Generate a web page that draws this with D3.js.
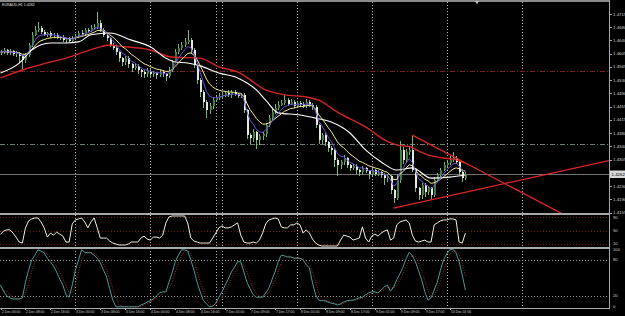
<!DOCTYPE html>
<html><head><meta charset="utf-8">
<script src="https://cdn.jsdelivr.net/npm/d3@7"></script>
<style>html,body{margin:0;padding:0;background:#000;overflow:hidden}</style>
</head><body><svg id="c" width="625" height="316"></svg>
<script>
// ---------------- DATA ----------------
const symbolLabel = "EURAUD,H1 1.4262";
const firstOpen = 1.4605;
const closes = [
1.4607,1.4613,1.4605,1.4610,1.4602,1.4605,1.4596,1.4585,
1.4599,1.4627,1.4656,1.4670,1.4675,1.4664,1.4656,1.4661,
1.4653,1.4656,1.4647,1.4650,1.4641,1.4644,1.4639,1.4647,
1.4653,1.4661,1.4658,1.4670,1.4667,1.4675,1.4678,1.4690,
1.4670,1.4656,1.4647,1.4627,1.4619,1.4607,1.4590,1.4579,
1.4590,1.4573,1.4562,1.4568,1.4556,1.4551,1.4545,1.4554,
1.4545,1.4548,1.4542,1.4551,1.4545,1.4539,1.4556,1.4579,
1.4607,1.4619,1.4627,1.4636,1.4641,1.4613,1.4571,1.4528,
1.4494,1.4466,1.4443,1.4454,1.4471,1.4477,1.4483,1.4486,
1.4491,1.4486,1.4494,1.4488,1.4483,1.4486,1.4443,1.4372,
1.4364,1.4381,1.4358,1.4369,1.4375,1.4401,1.4420,1.4437,
1.4449,1.4457,1.4463,1.4471,1.4460,1.4466,1.4454,1.4463,
1.4460,1.4454,1.4466,1.4457,1.4452,1.4401,1.4358,1.4372,
1.4352,1.4335,1.4330,1.4301,1.4287,1.4296,1.4307,1.4287,
1.4279,1.4284,1.4273,1.4267,1.4279,1.4270,1.4262,1.4273,
1.4262,1.4267,1.4259,1.4250,1.4256,1.4216,1.4194,1.4245,
1.4330,1.4301,1.4324,1.4330,1.4273,1.4222,1.4202,1.4231,
1.4211,1.4222,1.4202,1.4245,1.4259,1.4273,1.4287,1.4293,
1.4301,1.4307,1.4296,1.4267,1.4250,1.4262];
// wick lengths beyond the body, in pips
const upWick = [
5,6,4,5,4,6,3,4, 5,6,8,12,18,6,5,4, 5,4,6,3,5,4,6,5, 6,5,8,6,5,10,8,30,
8,5,6,4,5,6,3,4, 6,5,4,8,5,4,6,7, 5,6,4,5,6,4,8,6, 8,10,9,12,28,6,5,4,
5,6,4,8,10,6,8,5, 6,8,5,6,4,5,4,3, 5,8,4,6,5,6,8,10, 10,12,8,15,6,8,5,6,
6,5,8,6,5,4,3,6, 5,4,6,3,5,6,8,4, 4,6,5,3,6,4,3,5, 4,5,3,6,5,3,4,18,
25,8,10,8,39,5,4,6, 5,6,4,8,6,7,10,8, 12,18,6,5,8,6];
const dnWick = [
6,4,5,5,6,8,20,30, 10,6,5,4,6,5,4,6, 5,6,4,6,5,7,4,5, 5,6,4,5,6,4,5,6,
5,6,8,6,5,8,10,12, 8,10,12,6,10,14,12,8, 10,8,12,6,8,14,6,5, 4,5,6,5,6,10,8,10,
15,18,22,10,8,6,5,8, 6,5,8,6,5,6,8,10, 18,12,25,15,10,8,6,5, 5,6,4,6,5,4,6,5,
5,6,4,5,8,10,12,10, 10,12,15,18,30,12,10,8, 8,6,10,12,8,6,15,6, 6,5,8,20,10,12,14,6,
8,12,6,8,6,10,14,12, 14,10,12,6,5,6,4,5, 6,5,6,8,10,6];
// slow moving averages as read: [bar, price]
const whiteMA = [[0,1.4548],[6,1.4576],[10,1.4613],[16,1.4633],[21,1.4633],[25,1.4636],[29,1.4656],[35,1.4661],
 [42,1.4641],[48,1.4622],[53,1.4590],[56,1.4579],[60,1.4576],[64,1.4568],[70,1.4548],[76,1.4534],[82,1.4500],
 [85,1.4471],[89,1.4435],[96,1.4429],[101,1.4420],[106,1.4409],[112,1.4378],[117,1.4330],[122,1.4296],
 [127,1.4273],[132,1.4279],[138,1.4250],[144,1.4253],[149,1.4259]];
const redMA = [[0,1.4534],[9,1.4562],[16,1.4579],[21,1.4590],[32,1.4622],[35,1.4627],[38,1.4624],[48,1.4613],
 [55,1.4593],[64,1.4590],[70,1.4565],[76,1.4551],[85,1.4500],[91,1.4486],[98,1.4480],[102,1.4471],[108,1.4437],
 [117,1.4395],[124,1.4354],[128,1.4342],[131,1.4340],[134,1.4327],[137,1.4316],[142,1.4307],[145,1.4304],[149,1.4293]];
const trendDown = [[132,1.4372],[182,1.4140]];
const trendUp = [[126,1.4165],[195,1.4300]];
const levelLines = [1.4554, 1.4347];
const currentPrice = 1.4262;
const osc = [
39,48,52,52,42,30,15,12, 58,79,85,88,88,76,58,30, 42,36,45,39,33,15,15,70, 82,85,88,76,58,76,88,58,
27,27,27,18,12,9,6,6, 6,9,15,15,15,27,33,24, 21,30,30,27,36,73,91,94, 94,94,94,94,73,27,18,15,
12,12,12,12,27,42,58,64, 58,58,61,67,73,36,15,12, 12,15,12,21,42,70,82,85, 88,85,61,58,58,67,67,73,
67,42,52,42,24,12,6,3, 3,3,3,3,3,21,36,33, 30,21,24,27,61,27,15,33, 39,33,42,48,52,21,27,67,
76,79,82,73,36,18,15,18, 21,15,15,67,73,79,82,82, 85,85,82,15,12,42];
const oscLevels = [90, 50, 10];
const stochMain = [
38,28,20,17,15,15,15,17, 43,63,80,88,97,95,92,83, 77,70,60,48,38,22,18,38, 63,80,97,93,92,92,88,83,
75,63,52,32,13,2,2,2, 2,2,2,2,2,5,7,10, 12,15,20,25,27,27,43,58, 77,88,97,97,95,80,63,43,
27,13,7,2,3,8,18,27, 38,48,60,68,77,77,60,43, 32,22,18,18,18,25,33,47, 60,77,88,87,85,85,83,83,
83,80,72,67,42,22,13,12, 12,10,8,7,5,7,10,12, 13,13,15,17,18,22,25,27, 27,25,30,35,38,28,35,47,
57,68,82,93,87,77,62,47, 27,13,17,30,43,63,80,90, 97,98,92,77,55,30];
const stochLevels = [80, 20];
const stochLabels = ["100","80","20","0"];
const stochLabelVals = [98, 80, 20, 3];
const priceLabels = ["1.4715","1.4680","1.4640","1.4605","1.4565","1.4530","1.4490","1.4455","1.4415","1.4380","1.4340","1.4305","1.4230","1.4190","1.4155"];
const priceLabelVals = [1.4715,1.46775,1.4640,1.46025,1.4565,1.45275,1.4490,1.44525,1.4415,1.43775,1.4340,1.43025,1.42275,1.4190,1.41525];
const timeLabels = ["2 Dec 00:00","2 Dec 08:00","2 Dec 16:00","3 Dec 00:00","3 Dec 08:00","3 Dec 16:00","4 Dec 00:00","4 Dec 08:00","4 Dec 16:00","7 Dec 01:00","7 Dec 09:00","7 Dec 17:00","8 Dec 01:00","8 Dec 09:00","8 Dec 17:00","9 Dec 01:00","9 Dec 09:00","9 Dec 17:00","10 Dec 01:00"];
const timeLabelBars = [0,8,16,24,32,40,48,56,64,72,80,88,96,104,112,120,128,136,144];
const gridBars = [24,48,69,71,95,119,143,167];

// ---------------- DRAW ----------------
const svg = d3.select('#c');
svg.append('rect').attr('width',625).attr('height',316).attr('fill','#000');
const x = d3.scaleLinear().domain([0,195]).range([0.5, 0.5+3.12*195]);
const y = d3.scaleLinear().domain([1.4155,1.4715]).range([211.7,14]);
const y2 = d3.scaleLinear().domain([0,100]).range([247,214]);
const y3 = d3.scaleLinear().domain([0,100]).range([308,248]);
const px = i => Math.round(x(i));
const FONT = "'Liberation Sans', Arial, sans-serif";

const defs = svg.append('defs');
defs.append('clipPath').attr('id','cp1').append('rect').attr('x',0).attr('y',3).attr('width',609).attr('height',210);
defs.append('clipPath').attr('id','cp2').append('rect').attr('x',0).attr('y',215).attr('width',609).attr('height',32);
defs.append('clipPath').attr('id','cp3').append('rect').attr('x',0).attr('y',249).attr('width',609).attr('height',59);

// vertical grid
svg.append('g').selectAll('line').data(gridBars).join('line')
  .attr('x1',d=>px(d)+0.5).attr('x2',d=>px(d)+0.5).attr('y1',2).attr('y2',308)
  .attr('stroke','#b8b8b8').attr('stroke-dasharray','1,2').attr('stroke-width',1);

const g1 = svg.append('g').attr('clip-path','url(#cp1)');
g1.selectAll('line.lv').data(levelLines).join('line').attr('class','lv')
  .attr('x1',0).attr('x2',609).attr('y1',d=>Math.round(y(d))+0.5).attr('y2',d=>Math.round(y(d))+0.5)
  .attr('stroke',(d,i)=>i===0?'#7a2020':'#6f7f6f').attr('stroke-dasharray','5,2,1,2');
g1.append('line').attr('x1',0).attr('x2',609).attr('y1',Math.round(y(currentPrice))+0.5).attr('y2',Math.round(y(currentPrice))+0.5)
  .attr('stroke','#707070').attr('stroke-width',1);

// candles
const bars = closes.map((c,i)=>{
  const o = i ? closes[i-1] : firstOpen;
  return {i, o, c, h: Math.max(o,c)+upWick[i]*0.0001, l: Math.min(o,c)-dnWick[i]*0.0001};
});
const cg = g1.append('g').attr('shape-rendering','crispEdges');
cg.selectAll('line').data(bars).join('line')
  .attr('x1',d=>px(d.i)+0.5).attr('x2',d=>px(d.i)+0.5)
  .attr('y1',d=>y(d.h)).attr('y2',d=>y(d.l)).attr('stroke','#79b879');
cg.selectAll('rect').data(bars).join('rect')
  .attr('x',d=>px(d.i)).attr('width',2)
  .attr('y',d=>y(Math.max(d.o,d.c))).attr('height',d=>Math.max(1, Math.abs(y(d.o)-y(d.c))))
  .attr('fill',d=>d.c>=d.o?'#3f7f3f':'#e4ece0');

// moving averages
function ema(arr,n){const k=2/(n+1);let e=arr[0];return arr.map(v=>(e=v*k+e*(1-k)));}
const purple = ema(closes,5), yellow = ema(closes,10);
const line = d3.line().x((d,i)=>x(i)).y(d=>y(d));
const lineP = d3.line().x(d=>x(d[0])).y(d=>y(d[1])).curve(d3.curveMonotoneX);
g1.append('path').attr('d',lineP(redMA)).attr('fill','none').attr('stroke','#d42424').attr('stroke-width',1.4);
g1.append('path').attr('d',lineP(whiteMA)).attr('fill','none').attr('stroke','#ffffff').attr('stroke-width',1.1);
g1.append('path').attr('d',line(yellow)).attr('fill','none').attr('stroke','#f4ec8c').attr('stroke-width',1);
g1.append('path').attr('d',line(purple)).attr('fill','none').attr('stroke','#6a50d8').attr('stroke-width',1);
const lineT = d3.line().x(d=>x(d[0])).y(d=>y(d[1]));
[trendDown, trendUp].forEach(t=>g1.append('path').attr('d',lineT(t)).attr('fill','none').attr('stroke','#e02626').attr('stroke-width',1.3));

// panel 2
const g2 = svg.append('g').attr('clip-path','url(#cp2)');
g2.selectAll('line').data(oscLevels).join('line')
  .attr('x1',0).attr('x2',609).attr('y1',d=>Math.round(y2(d))+0.5).attr('y2',d=>Math.round(y2(d))+0.5)
  .attr('stroke','#7a1a1a').attr('stroke-dasharray','1,2');
g2.append('path').attr('d',d3.line().x((d,i)=>x(i)).y(d=>y2(d))(osc)).attr('fill','none').attr('stroke','#f4f0dc').attr('stroke-width',1);

// panel 3
const g3 = svg.append('g').attr('clip-path','url(#cp3)');
g3.selectAll('line').data(stochLevels).join('line')
  .attr('x1',0).attr('x2',609).attr('y1',d=>Math.round(y3(d))+0.5).attr('y2',d=>Math.round(y3(d))+0.5)
  .attr('stroke','#9a9a9a').attr('stroke-dasharray','1,2');
const signal = stochMain.map((v,i)=>i<2?v:(stochMain[i]+stochMain[i-1]+stochMain[i-2])/3);
g3.append('path').attr('d',d3.line().x((d,i)=>x(i)).y(d=>y3(d))(signal)).attr('fill','none').attr('stroke','#b02a2a').attr('stroke-dasharray','1,1.5').attr('stroke-width',1);
g3.append('path').attr('d',d3.line().x((d,i)=>x(i)).y(d=>y3(d))(stochMain)).attr('fill','none').attr('stroke','#4c9c98').attr('stroke-width',1);

// frame lines
const frame = svg.append('g').attr('shape-rendering','crispEdges');
frame.append('rect').attr('x',0).attr('y',0).attr('width',610).attr('height',2).attr('fill','#8a8a8a');
frame.append('rect').attr('x',0).attr('y',213).attr('width',610).attr('height',2).attr('fill','#a8a8a8');
frame.append('rect').attr('x',0).attr('y',247).attr('width',610).attr('height',2).attr('fill','#a8a8a8');
frame.append('rect').attr('x',0).attr('y',308).attr('width',610).attr('height',1).attr('fill','#a8a8a8');
frame.append('rect').attr('x',609).attr('y',0).attr('width',1).attr('height',309).attr('fill','#a8a8a8');
svg.append('path').attr('d','M475,1 L479,1 L477,4 Z').attr('fill','#c8c8c8');

// right axis labels
const ax = svg.append('g').attr('font-family',FONT).attr('fill','#d0d0d0');
ax.selectAll('text.p').data(priceLabels).join('text').attr('class','p')
  .attr('x',613).attr('y',(d,i)=>y(priceLabelVals[i])).attr('dy','0.35em').attr('font-size',4.4).text(d=>d);
ax.selectAll('line.pt').data(priceLabelVals).join('line').attr('class','pt')
  .attr('x1',610).attr('x2',612).attr('y1',d=>Math.round(y(d))+0.5).attr('y2',d=>Math.round(y(d))+0.5).attr('stroke','#a8a8a8');
const cy = Math.round(y(currentPrice));
svg.append('rect').attr('x',610).attr('y',cy-3.5).attr('width',15).attr('height',7.5).attr('fill','#d8d8d8');
svg.append('text').attr('x',611.5).attr('y',cy+0.5).attr('dy','0.35em').attr('font-family',FONT).attr('font-size',4.4).attr('fill','#000').text(currentPrice.toFixed(4));
ax.selectAll('text.o').data(oscLevels).join('text').attr('class','o')
  .attr('x',613).attr('y',d=>y2(d)).attr('dy','0.35em').attr('font-size',4.2).text(d=>d);
ax.selectAll('text.s').data(stochLabels).join('text').attr('class','s')
  .attr('x',613).attr('y',(d,i)=>y3(stochLabelVals[i])).attr('dy','0.35em').attr('font-size',4.2).text(d=>d);
ax.selectAll('text.t').data(timeLabels).join('text').attr('class','t')
  .attr('x',(d,i)=>px(timeLabelBars[i])+1).attr('y',312).attr('dy','0.35em').attr('font-size',3.4).text(d=>d);
ax.selectAll('line.tt').data(timeLabelBars).join('line').attr('class','tt')
  .attr('x1',d=>px(d)+0.5).attr('x2',d=>px(d)+0.5).attr('y1',309).attr('y2',310).attr('stroke','#a8a8a8');
svg.append('text').attr('x',2).attr('y',5).attr('dy','0.35em').attr('font-family',FONT).attr('font-size',3.6).attr('fill','#e0e0e0').text(symbolLabel);
</script></body></html>
